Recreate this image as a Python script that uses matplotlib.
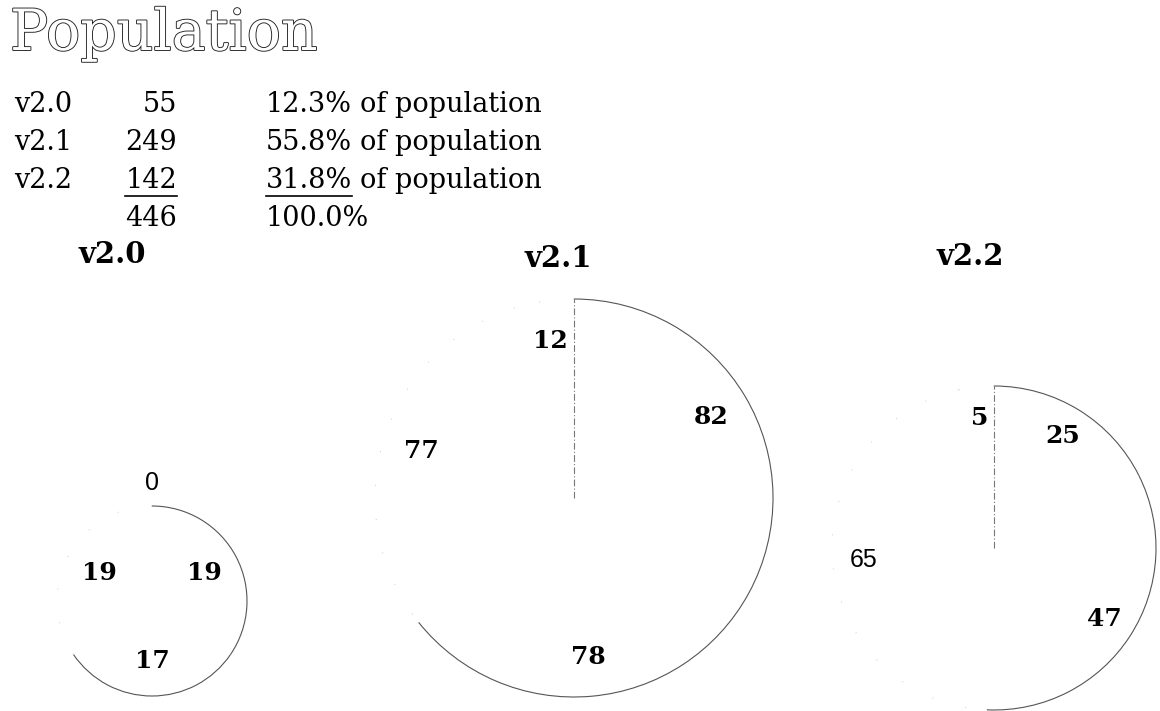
import numpy as np
import matplotlib
matplotlib.use("Agg")
import matplotlib.pyplot as plt
import matplotlib.patheffects as pe
from matplotlib.patches import Arc
from matplotlib.lines import Line2D

# data
versions = ["v2.0", "v2.1", "v2.2"]
counts = [55, 249, 142]
slices_v20 = [19, 17, 19, 0]
slices_v21 = [82, 78, 77, 12]
slices_v22 = [25, 47, 65, 5]
pie_values = [slices_v20, slices_v21, slices_v22]

W, H = 1160, 711
SERIF = "DejaVu Serif"
SANS = "Liberation Sans"

def fx(x):
    return x / W

def fy(y):
    return 1 - y / H

fig = plt.figure(figsize=(W / 100, H / 100), dpi=100)
fig.patch.set_facecolor("white")

# outlined heading
fig.text(fx(10), fy(50), "Population", fontsize=41, family=SERIF, color="white",
         ha="left", va="baseline",
         path_effects=[pe.Stroke(linewidth=1.3, foreground="#222222"), pe.Normal()])

# summary table
total = sum(counts)
rows_y = [112, 150, 188]
tsize = 19.5
underline = []
after_pct = []
for i, (v, c) in enumerate(zip(versions, counts)):
    y = rows_y[i]
    fig.text(fx(14), fy(y), v, fontsize=tsize, family=SERIF, va="baseline")
    t1 = fig.text(fx(177), fy(y), str(c), fontsize=tsize, family=SERIF, ha="right", va="baseline")
    t2 = fig.text(fx(266), fy(y), f"{c / total * 100:.1f}%", fontsize=tsize, family=SERIF, va="baseline")
    after_pct.append((t2, y))
    if i == len(versions) - 1:
        underline += [t1, t2]
fig.text(fx(177), fy(226), str(total), fontsize=tsize, family=SERIF, ha="right", va="baseline")
fig.text(fx(266), fy(226), "100.0%", fontsize=tsize, family=SERIF, va="baseline")

# pies: centre (px), radius (px), label distance
centers = [(152, 601), (574, 498), (994, 548)]
radii = [95, 199, 162]
label_dist = [0.63, 0.80, 0.81]
title_pos = [(112, 263), (558, 267), (970, 265)]
start_line = [False, True, True]
sans_label = [[False, False, False, True], [False] * 4, [False, False, True, False]]

for k, vals in enumerate(pie_values):
    cx, cy = centers[k]
    r = radii[k]
    ax = fig.add_axes([fx(cx - r), fy(cy + r), 2 * r / W, 2 * r / H])
    wedges, _ = ax.pie(vals, startangle=90, counterclock=False, radius=1,
                       colors=["white"] * len(vals),
                       wedgeprops=dict(edgecolor="none"))
    ax.set_xlim(-1, 1)
    ax.set_ylim(-1, 1)
    ax.axis("off")

    # faded scan: only the first two slices keep their outer edge
    for w in wedges[:2]:
        ax.add_patch(Arc(w.center, 2 * w.r, 2 * w.r, theta1=w.theta1, theta2=w.theta2,
                         color="#555555", lw=0.8, clip_on=False))
    # faint specks where the rest of the rim was
    for w in wedges[2:]:
        if w.theta2 > w.theta1:
            ax.add_patch(Arc(w.center, 2 * w.r, 2 * w.r, theta1=w.theta1, theta2=w.theta2,
                             color="#bbbbbb", lw=0.6, ls=(0, (1, 40)), clip_on=False))
    if start_line[k]:
        a = np.deg2rad(wedges[0].theta2)
        ax.plot([0, np.cos(a)], [0, np.sin(a)], color="#777777", lw=0.8,
                ls=(0, (6, 2, 1, 2)), clip_on=False)

    for j, (w, v) in enumerate(zip(wedges, vals)):
        mid = np.deg2rad((w.theta1 + w.theta2) / 2)
        d = 1.24 if v == 0 else label_dist[k]
        if sans_label[k][j]:
            ax.text(d * np.cos(mid), d * np.sin(mid), str(v), ha="center", va="center",
                    fontsize=18, family=SANS)
        else:
            ax.text(d * np.cos(mid), d * np.sin(mid), str(v), ha="center", va="center",
                    fontsize=18, family=SERIF, weight="bold")

    tx, ty = title_pos[k]
    fig.text(fx(tx), fy(ty), versions[k], fontsize=21, family=SERIF, weight="bold",
             ha="center", va="baseline")

# "of population" follows each percentage, last row underlined
fig.canvas.draw()
rend = fig.canvas.get_renderer()
for t, y in after_pct:
    bb = t.get_window_extent(rend)
    fig.text((bb.x1 + 8) / W, fy(y), "of population", fontsize=tsize, family=SERIF, va="baseline")
for t in underline:
    bb = t.get_window_extent(rend)
    yb = bb.y0 - 2
    fig.add_artist(Line2D([bb.x0 / W, bb.x1 / W], [yb / H, yb / H], color="black", lw=1.2))

fig.savefig("out.png", dpi=100, facecolor="white")
